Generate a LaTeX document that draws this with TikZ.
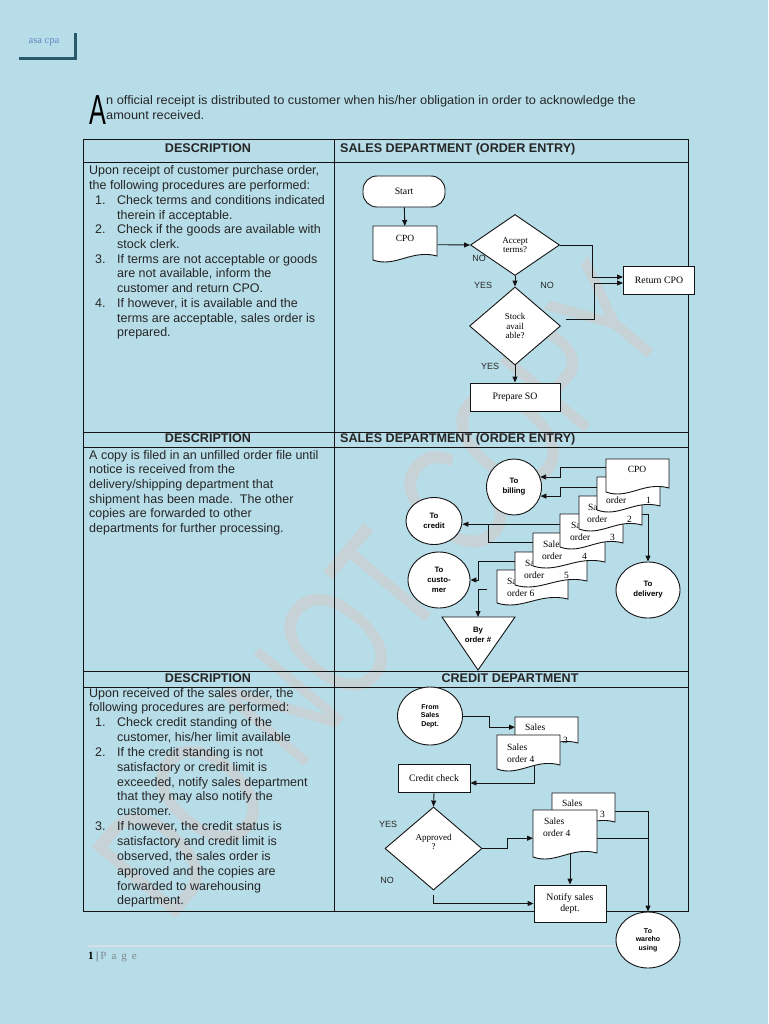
\documentclass[tikz,border=0pt]{standalone}
\usepackage{fontspec}
\setmainfont{Liberation Serif}
\newfontfamily\arial{Liberation Sans}
\usetikzlibrary{shapes.geometric,arrows.meta,calc}
\definecolor{bg}{RGB}{183,221,232}
\definecolor{ink}{RGB}{20,20,20}
\definecolor{txt}{RGB}{38,38,38}
\definecolor{wm}{RGB}{199,210,215}
\definecolor{logoblue}{RGB}{95,135,195}
\definecolor{logoline}{RGB}{40,90,108}
\definecolor{foot}{RGB}{125,135,140}
\definecolor{footline}{RGB}{212,224,228}
\pgfdeclarelayer{back}
\pgfdeclarelayer{links}
\pgfsetlayers{back,links,main}
\tikzset{
  conn/.style={draw=ink, line width=0.9pt},
  arr/.style={conn, -{Triangle[length=6pt,width=5pt]}},
  shp/.style={draw=ink, fill=white, line width=0.9pt},
  box/.style={shp, rectangle, inner sep=0pt, align=center, font=\fontsize{9.8}{11}\selectfont},
  term/.style={box, rounded corners=14pt},
  dia/.style={shp, diamond, inner sep=0pt, align=center, font=\fontsize{9}{9.6}\selectfont},
  circ/.style={shp, ellipse, inner sep=0pt, align=center, font=\arial\bfseries\fontsize{7.8}{10}\selectfont},
  lbl/.style={inner sep=0pt, text=txt, font=\arial\fontsize{9}{10}\selectfont},
  hdr/.style={inner sep=0pt, anchor=base, text=txt, font=\arial\bfseries\fontsize{12.6}{14}\selectfont},
  bl/.style={inner sep=0pt, anchor=base west, text=txt, font=\arial\fontsize{12.5}{15}\selectfont},
  dt/.style={inner sep=0pt, anchor=base west, font=\fontsize{9.5}{10}\selectfont},
  tbl/.style={draw=ink, line width=1pt},
}
\newcommand\docshape[5]{%
  \node[inner sep=0pt, minimum width=#4pt, minimum height=#5pt, anchor=north west] (#1) at (#2,#3) {};
  \path[shp] (#2,#3) -- ({#2+#4},#3) -- ({#2+#4},{#3+#5-7}) .. controls ({#2+0.6*#4},{#3+#5-14}) and ({#2+0.35*#4},{#3+#5+5}) .. (#2,{#3+#5-3}) -- cycle;
}
\newcommand\bline[3]{\node[bl] at (#1,#2) {#3};}
\begin{document}
\begin{tikzpicture}[x=1pt,y=-1pt]
\begin{pgfonlayer}{back}
\fill[bg] (0,0) rectangle (768,1024);
% watermark
\node[rotate=50, text=wm, inner sep=0pt] (wmk) at (380,590) {\scalebox{0.7}[1]{\arial\fontsize{160}{160}\selectfont DO NOT COPY}};
% logo
\node[font=\fontsize{10.5}{12}\selectfont, text=logoblue, inner sep=0pt] (logo) at (44,42) {asa cpa};
\draw[logoline, line width=3pt] (75,33) -- (75,58.5) -- (19,58.5);
% heading
\node[anchor=base west, inner sep=0pt, text=black] (dropA) at (89,124.5) {\scalebox{0.6}[1]{\arial\fontsize{42}{42}\selectfont A}};
\node[anchor=base west, inner sep=0pt, text=txt] (h1) at (106,105) {\scalebox{1.04}[1]{\arial\fontsize{12.3}{13}\selectfont n official receipt is distributed to customer when his/her obligation in order to acknowledge the}};
\node[anchor=base west, inner sep=0pt, text=txt] (h2) at (106,120) {\scalebox{1.04}[1]{\arial\fontsize{12.3}{13}\selectfont amount received.}};
% table
\draw[tbl] (83,140) rectangle (688,911);
\draw[tbl] (334,140) -- (334,911);
\foreach \yy in {163,432,447,671,687} {\draw[tbl] (83,\yy) -- (688,\yy);}
\node[hdr] (hd1) at (208,152.5) {DESCRIPTION};
\node[hdr, anchor=base west] (hs1) at (340,152.5) {SALES DEPARTMENT (ORDER ENTRY)};
\node[hdr] (hd2) at (208,442.5) {DESCRIPTION};
\node[hdr, anchor=base west] (hs2) at (340,442.5) {SALES DEPARTMENT (ORDER ENTRY)};
\node[hdr] (hd3) at (208,682.5) {DESCRIPTION};
\node[hdr] (hc3) at (510,682.5) {CREDIT DEPARTMENT};
% body 1
\bline{89}{175}{Upon receipt of customer purchase order,}
\bline{89}{189.7}{the following procedures are performed:}
\bline{95}{204.4}{1.}\bline{117}{204.4}{Check terms and conditions indicated}
\bline{117}{219.1}{therein if acceptable.}
\bline{95}{233.8}{2.}\bline{117}{233.8}{Check if the goods are available with}
\bline{117}{248.5}{stock clerk.}
\bline{95}{263.2}{3.}\bline{117}{263.2}{If terms are not acceptable or goods}
\bline{117}{277.9}{are not available, inform the}
\bline{117}{292.6}{customer and return CPO.}
\bline{95}{307.3}{4.}\bline{117}{307.3}{If however, it is available and the}
\bline{117}{322}{terms are acceptable, sales order is}
\bline{117}{336.7}{prepared.}
% body 2
\bline{89}{459}{A copy is filed in an unfilled order file until}
\bline{89}{473.7}{notice is received from the}
\bline{89}{488.4}{delivery/shipping department that}
\bline{89}{503.1}{shipment has been made.\ \ The other}
\bline{89}{517.8}{copies are forwarded to other}
\bline{89}{532.5}{departments for further processing.}
% body 3
\bline{89}{697}{Upon received of the sales order, the}
\bline{89}{711.85}{following procedures are performed:}
\bline{95}{726.7}{1.}\bline{117}{726.7}{Check credit standing of the}
\bline{117}{741.55}{customer, his/her limit available}
\bline{95}{756.4}{2.}\bline{117}{756.4}{If the credit standing is not}
\bline{117}{771.25}{satisfactory or credit limit is}
\bline{117}{786.1}{exceeded, notify sales department}
\bline{117}{800.95}{that they may also notify the}
\bline{117}{815.8}{customer.}
\bline{95}{830.65}{3.}\bline{117}{830.65}{If however, the credit status is}
\bline{117}{845.5}{satisfactory and credit limit is}
\bline{117}{860.35}{observed, the sales order is}
\bline{117}{875.2}{approved and the copies are}
\bline{117}{890.05}{forwarded to warehousing}
\bline{117}{904.9}{department.}
% footer
\draw[footline, line width=1.2pt] (88,946) -- (680,946);
\node[anchor=base west, inner sep=0pt, font=\bfseries\fontsize{11}{12}\selectfont] (pg) at (88,959) {1};
\node[anchor=base west, inner sep=0pt, text=foot, font=\fontsize{11}{12}\selectfont] (pgw) at (96,959) {\textcolor{ink!80}{|}\hspace{2pt}P\hspace{5pt}a\hspace{5pt}g\hspace{5pt}e};
\end{pgfonlayer}

% ---------- flowchart 1 ----------
\node[term, minimum width=82pt, minimum height=31pt] (start) at (404,191.5) {Start};
\docshape{cpo1}{373}{226}{64}{37}
\node[dt, anchor=base] at (405,241) {CPO};
\node[dia, minimum width=89pt, minimum height=61pt] (acc) at (515,245) {Accept\\terms?};
\node[dia, minimum width=91pt, minimum height=78pt] (stk) at (515,326) {Stock\\avail\\able?};
\node[box, minimum width=71pt, minimum height=28pt] (ret) at (659,280) {Return CPO};
\node[box, minimum width=90pt, minimum height=28pt] (prep) at (515,397) {Prepare SO};
\node[lbl] at (479,258) {NO};
\node[lbl] at (483,285) {YES};
\node[lbl] at (547,285) {NO};
\node[lbl] at (490,366) {YES};

% ---------- flowchart 2 ----------
\node[circ, minimum width=55pt, minimum height=56pt] (bill) at (514,487) {To\\billing};
\node[circ, minimum width=56pt, minimum height=47pt] (credit) at (434,521) {To\\credit};
\node[circ, minimum width=62pt, minimum height=56pt] (cust) at (439,580) {To\\custo-\\mer};
\node[circ, minimum width=64pt, minimum height=56pt] (deliv) at (648,590) {To\\delivery};
\path[shp] (442,617) -- (515,617) -- (478,670) -- cycle;
\coordinate (tri) at (478,617);
\node[circ, draw=none, fill=none] (trit) at (478,635) {By\\order \#};
\docshape{d6}{497}{570}{71}{36}
\node[dt] at (507,584) {Sales};
\node[dt] at (507,596) {order 6};
\docshape{d5}{515}{552}{72}{36}
\node[dt] at (525,566) {Sales};
\node[dt] at (524,578) {order};\node[dt] at (564,578) {5};
\docshape{d4}{533}{533}{72}{36}
\node[dt] at (543,547) {Sales};
\node[dt] at (542,559) {order};\node[dt] at (582,559) {4};
\docshape{d3}{560}{514}{63}{36}
\node[dt] at (571,528) {Sales};
\node[dt] at (570,540) {order};\node[dt] at (610,540) {3};
\docshape{d2}{579}{496}{63}{36}
\node[dt] at (588,510) {Sales};
\node[dt] at (587,522) {order};\node[dt] at (627,522) {2};
\docshape{d1}{597}{477}{63}{36}
\node[dt] at (606,491) {Sales};
\node[dt] at (606,503) {order};\node[dt] at (646,503) {1};
\docshape{dc}{606}{459}{63}{36}
\node[dt, anchor=base] at (637,472) {CPO};

% ---------- flowchart 3 ----------
\node[circ, minimum width=65pt, minimum height=58pt, font=\arial\bfseries\fontsize{7}{8.5}\selectfont] (from) at (430,716) {From\\Sales\\Dept.};
\docshape{e1b}{515}{717}{63}{33}
\node[dt] at (525,730) {Sales};
\node[dt] at (563,743) {3};
\docshape{e1f}{497}{735}{63}{37}
\node[dt] at (507,750) {Sales};
\node[dt] at (507,762) {order 4};
\node[box, minimum width=72pt, minimum height=28pt] (cc) at (434,778) {Credit check};
\node[dia, minimum width=97pt, minimum height=83pt] (appr) at (433.5,848.5) {Approved\\?\\[4pt]\mbox{}};
\docshape{e2b}{552}{793}{63}{36}
\node[dt] at (562,806) {Sales};
\node[dt] at (600,817) {3};
\docshape{e2f}{533}{810}{64}{50}
\node[dt] at (544,824) {Sales};
\node[dt] at (543,836) {order 4};
\node[box, minimum width=72pt, minimum height=37pt] (notify) at (570,903.5) {Notify sales\\dept.};
\node[circ, minimum width=64pt, minimum height=56pt, font=\arial\bfseries\fontsize{7}{8.5}\selectfont] (wh) at (648,940) {To\\wareho\\using};
\node[lbl] at (388,824) {YES};
\node[lbl] at (387,880) {NO};

% ---------- connectors ----------
\begin{pgfonlayer}{links}
% flowchart 1
\draw[arr] (start) -- (cpo1);
\draw[arr] (cpo1.east) -- (acc.west);
\draw[arr] (acc.east) -- ++(32,0) |- ([yshift=3pt]ret.west);
\draw[arr] ([xshift=5pt,yshift=7pt]stk.east) -- ++(28,0) |- ([yshift=-3pt]ret.west);
\draw[arr] (acc.south) -- (stk.north);
\draw[arr] (stk.south) -- (prep.north);
% flowchart 2
\draw[arr] ([yshift=10pt]dc.west) -- ++(-46,0) |- (bill.21);
\draw[arr] ([yshift=8pt]d1.west) -- ++(-37,0) |- (bill.-19);
\coordinate (c3s) at ([yshift=8pt]d3.west);
\draw[arr] (c3s) -- (c3s -| credit.east);
\coordinate (c4s) at ([yshift=9pt]d4.west);
\draw[conn] (c4s) -| ($(c3s)+(-72,0)$);
\coordinate (c5s) at ([yshift=9pt]d5.west);
\draw[arr] (c5s) -- ++(-37,0) |- (cust.east);
\coordinate (c6s) at (487,589);
\draw[arr] (c6s) -| (tri);
\draw[arr] (d2.east) -| (deliv.north);
% flowchart 3
\draw[arr] (from.east) -- ++(26,0) |- ([yshift=6.5pt]e1b.west);
\draw[arr] ([xshift=5.5pt]e1f.center) |- ([yshift=-5pt]cc.east);
\draw[arr] (cc.south) -- (appr.north);
\draw[arr] (appr.east) -- ++(25,0) |- ([yshift=-3pt]e2f.west);
\draw[arr] ([yshift=-5pt]appr.south) |- (notify.west);
\draw[arr] (e2f.center -| notify.north) -- (notify.north);
\draw[arr] (e2b.east) -| (wh.north);
\coordinate (j1) at ([yshift=-3pt]e2f.east);
\draw[conn] (j1) -- (j1 -| wh.north);
\end{pgfonlayer}
\end{tikzpicture}
\end{document}
